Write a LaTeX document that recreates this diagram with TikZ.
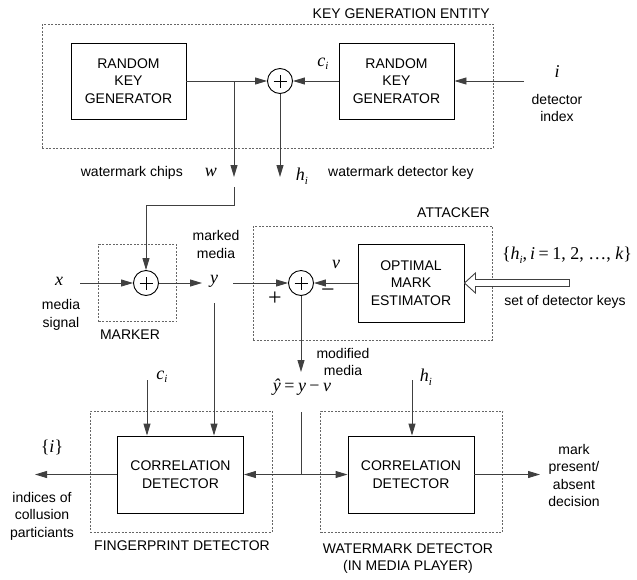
\documentclass[tikz,border=0pt]{standalone}
\usepackage{fontspec}
\setmainfont{Liberation Sans}
\newfontfamily\tms{Liberation Serif}
\usetikzlibrary{arrows.meta}

% italic variable, its subscript, and upright serif symbols
\newcommand{\mv}[1]{{\fontsize{18}{18}\selectfont\tms\itshape #1}}
\newcommand{\sbs}[1]{\raisebox{-3.5pt}{\fontsize{11}{11}\selectfont\tms\itshape #1}}
\newcommand{\mr}[1]{{\fontsize{18}{18}\selectfont\tms #1}}
\newcommand{\rel}[1]{\hspace{3.5pt}\mr{#1}\hspace{3.5pt}}
\newcommand{\sgn}[1]{{\fontsize{24}{24}\selectfont\tms #1}}

\tikzset{
  lbl/.style={font=\fontsize{14}{17.5}\selectfont, align=center, inner sep=0pt},
  mlbl/.style={inner sep=0pt},
  blk/.style={lbl, draw=black, line width=0.9pt, minimum width=115pt, minimum height=76pt},
  grp/.style={draw=black!60, line width=0.8pt, dash pattern=on 2pt off 1.5pt, inner sep=0pt},
  adder/.style={draw=black, line width=0.9pt, circle, minimum size=25pt, inner sep=0pt,
    path picture={\draw[line width=0.8pt]
      (path picture bounding box.center) ++(-6.5pt,0pt) -- ++(13pt,0pt)
      (path picture bounding box.center) ++(0pt,-6.5pt) -- ++(0pt,13pt);}},
  wire/.style={draw=black!75, line width=0.9pt},
  arr/.style={wire, -{Triangle[length=12pt,width=7pt]}},
  hollow/.style={draw=black!75, line width=0.9pt, fill=white}
}

\begin{document}
\begin{tikzpicture}[x=1pt,y=-1pt]
\useasboundingbox (0,0) rectangle (637,579);

% ---------- key generation entity ----------
\node[grp, minimum width=451pt, minimum height=124pt] (kge) at (267.5,86) {};
\node[lbl, anchor=east] (kgel) at (490,14) {KEY GENERATION ENTITY};
\node[blk] (rkg1) at (128.5,81) {RANDOM\\KEY\\GENERATOR};
\node[blk] (rkg2) at (396.5,81) {RANDOM\\KEY\\GENERATOR};
\node[adder] (s1) at (280,81) {};
\coordinate (wsplit) at (234,81);
\coordinate (wtip) at (234,177);
\coordinate (htip) at (280,177);
\coordinate (iin) at (524,81);
\draw[arr] (rkg1.east) -- (s1.west);
\draw[arr] (wsplit) -- (wtip);
\draw[arr] (s1.south) -- (htip);
\draw[arr] (rkg2.west) -- (s1.east);
\draw[arr] (iin) -- (rkg2.east);
\node[mlbl] (ci1) at (323,64) {\mv{c}\sbs{i}};
\node[mlbl] (ilbl) at (557,72) {\mv{i}};
\node[lbl] (detidx) at (557,108) {detector\\index};
\node[lbl, anchor=east] (wchips) at (183,173) {watermark chips};
\node[mlbl] (wlbl) at (211,172) {\mv{w}};
\node[mlbl] (hlbl) at (302,176) {\mv{h}\sbs{i}};
\node[lbl, anchor=west] (wdk) at (328,173) {watermark detector key};

% ---------- marker ----------
\node[grp, minimum width=78pt, minimum height=77pt] (mkr) at (137.5,283) {};
\node[lbl] (mkrl) at (130,335) {MARKER};
\node[adder] (s2) at (146,283) {};
\coordinate (wres) at (234,187);
\coordinate (wbend) at (234,205);
\draw[arr] (wres) -- (wbend) -| (s2.north);
\coordinate (xin) at (80,283);
\draw[arr] (xin) -- (s2.west);
\node[mlbl] (xl) at (59,281) {\mv{x}};
\node[lbl] (msig) at (61,315) {media\\signal};
\coordinate (ytip) at (202,283);
\draw[arr] (s2.east) -- (ytip);
\node[mlbl] (yl) at (214,281) {\mv{y}};
\node[lbl] (mmed) at (216,244.5) {marked\\media};

% ---------- attacker ----------
\node[grp, minimum width=239pt, minimum height=114pt] (att) at (372.5,283) {};
\node[lbl, anchor=east] (attl) at (490,213) {ATTACKER};
\node[adder] (s3) at (301,283) {};
\node[blk, minimum width=106pt, minimum height=78pt] (ome) at (411,283) {OPTIMAL\\MARK\\ESTIMATOR};
\coordinate (yout) at (233,283);
\draw[arr] (yout) -- (s3.west);
\draw[arr] (ome.west) -- (s3.east);
\node[mlbl] (plus) at (275,299) {\sgn{+}};
\node[mlbl] (minus) at (328,293) {\sgn{−}};
\node[mlbl] (vlbl) at (336,264) {\mv{v}};
\draw[hollow] (ome.east) -- ++(11,-10) -- ++(0,6.5) -- ++(94,0) -- ++(0,7)
  -- ++(-94,0) -- ++(0,6.5) -- cycle;
\node[mlbl] (hset) at (567,255) {\mr{\{}\mv{h}\sbs{i}\mr{,}\hspace{3pt}\mv{i}\rel{=}\mr{1, 2, …, }\mv{k}\mr{\}}};
\node[lbl] (sdk) at (565,302) {set of detector keys};
\coordinate (ymod) at (301,372);
\draw[arr] (s3.south) -- (ymod);
\node[lbl] (modm) at (343,362) {modified\\media};

% ---------- detectors ----------
\node[grp, minimum width=182pt, minimum height=121pt] (fpd) at (181,471.5) {};
\node[grp, minimum width=182pt, minimum height=121pt] (wmd) at (411.5,471.5) {};
\node[blk, minimum width=126pt, minimum height=77pt] (fpc) at (180.5,474.5) {CORRELATION\\DETECTOR};
\node[blk, minimum width=126pt, minimum height=77pt] (wmc) at (411,474.5) {CORRELATION\\DETECTOR};
\node[lbl] (fpdl) at (182,546) {FINGERPRINT DETECTOR};
\node[lbl] (wmdl) at (408,558.5) {WATERMARK DETECTOR\\(IN MEDIA PLAYER)};

\coordinate (cin) at (147,380);
\coordinate (ydown) at (214,303);
\coordinate (hin) at (412,380);
\draw[arr] (cin) -- (cin |- fpc.north);
\draw[arr] (ydown) -- (ydown |- fpc.north);
\draw[arr] (hin) -- (hin |- wmc.north);
\node[mlbl] (ci2) at (162,377) {\mv{c}\sbs{i}};
\node[mlbl] (hi2) at (426,377) {\mv{h}\sbs{i}};
\node[mlbl] (yhat) at (302,387) {\mv{ŷ}\rel{=}\mv{y}\rel{−}\mv{v}};

\coordinate (yh) at (301,412);
\coordinate (yj) at (301,474.5);
\draw[wire] (yh) -- (yj);
\draw[arr] (yj) -- (fpc.east);
\draw[arr] (yj) -- (wmc.west);

\coordinate (outl) at (35,474.5);
\coordinate (outr) at (540,474.5);
\draw[arr] (fpc.west) -- (outl);
\draw[arr] (wmc.east) -- (outr);
\node[mlbl] (iset) at (52,447) {\mr{\{}\mv{i}\mr{\}}};
\node[lbl] (idx) at (42,516) {indices of\\collusion\\particiants};
\node[lbl] (dec) at (574,475.5) {mark\\present/\\absent\\decision};
\end{tikzpicture}
\end{document}
